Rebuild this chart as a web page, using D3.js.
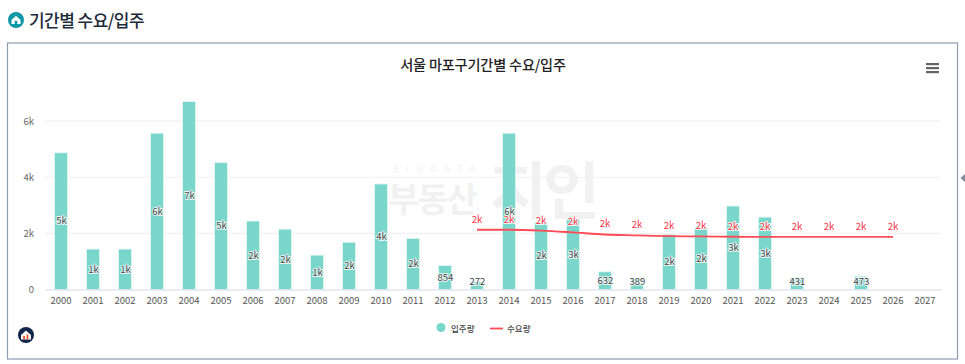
<!DOCTYPE html>
<html>
<head>
<meta charset="utf-8">
<script src="https://cdn.jsdelivr.net/npm/d3@7"></script>
<style>
  html, body { margin: 0; padding: 0; background: #fff; overflow: hidden; }
  text { font-family: "Noto Sans CJK KR", "Noto Sans", sans-serif; }
</style>
</head>
<body>
<div id="chart"></div>
<script>
let years = d3.range(2000, 2028).map(String)

// 입주량 (null = no bar)
let moveIn = [4870, 1440, 1440, 5570, 6700, 4520, 2440, 2150, 1225, 1680,
  3760, 1820, 854, 272, 5570, 2390, 2500, 632, 389, 1960,
  2200, 2975, 2580, 431, null, 473, null, null]

// 수요량
let demandYears = ["2013", "2014", "2015", "2016", "2017", "2018", "2019",
  "2020", "2021", "2022", "2023", "2024", "2025", "2026"]
let demand = [2130, 2130, 2100, 2035, 1960, 1930, 1900, 1890, 1880, 1875, 1875, 1875, 1875, 1875]

let yTicks = [0, 2000, 4000, 6000]

let
  width = 965,
  height = 364,
  plotLeft = 45,
  plotRight = 941,
  plotTop = 65,
  plotBottom = 289.5

let svg = d3.select("#chart")
  .append("svg")
    .attr("width", width)
    .attr("height", height)
    .style("display", "block")

let xScale = d3.scaleBand().domain(years).range([plotLeft, plotRight])
let yScale = d3.scaleLinear().domain([0, 8000]).range([plotBottom, plotTop])
let xMid = d => xScale(d) + xScale.bandwidth() / 2

let fmt = v => v >= 1000 ? Math.round(v / 1000) + "k" : String(v)

// page heading
svg.append("circle").attr("cx", 16).attr("cy", 20).attr("r", 8).attr("fill", "#1098a8")
svg.append("path")
  .attr("d", "M11.5 20 L16 15.8 L20.5 20 L20.5 24 L11.5 24 Z")
  .attr("fill", "#fff")
svg.append("rect").attr("x", 14.7).attr("y", 20.8).attr("width", 2.6).attr("height", 3.2).attr("fill", "#1098a8")
svg.append("text")
  .attr("x", 29).attr("y", 26.5)
  .attr("font-size", 17).attr("font-weight", 500)
  .attr("fill", "#1c2a3a").attr("letter-spacing", -0.55)
  .text("기간별 수요/입주")

// card
svg.append("rect")
  .attr("x", 7.5).attr("y", 43).attr("width", 950).attr("height", 316)
  .attr("fill", "#fff").attr("stroke", "#8c9cb2").attr("stroke-width", 1.2)
svg.append("path").attr("d", "M965 174 L960.5 178 L965 182 Z").attr("fill", "#7f8c9c")

// watermark
let mark = svg.append("g").attr("fill", "#f1f1f1")
mark.append("text")
  .attr("x", 393).attr("y", 172)
  .attr("font-size", 9).attr("letter-spacing", 7.6).attr("fill", "#f2f2f2")
  .text("BIGDATA")
mark.append("text")
  .attr("x", 388).attr("y", 212)
  .attr("font-size", 34).attr("font-weight", 700)
  .attr("letter-spacing", -2)
  .text("부동산")
mark.append("text")
  .attr("x", 490).attr("y", 214)
  .attr("font-size", 62).attr("font-weight", 700)
  .attr("letter-spacing", -4)
  .text("지인")

// gridlines
svg.append("g")
  .selectAll("line")
  .data(yTicks.filter(d => d > 0))
  .enter()
  .append("line")
    .attr("x1", plotLeft).attr("x2", plotRight)
    .attr("y1", d => yScale(d)).attr("y2", d => yScale(d))
    .attr("stroke", "#eff0f3").attr("stroke-width", 1.2)

// y axis
let yAxis = d3.axisLeft(yScale).tickValues(yTicks).tickFormat(fmt).tickSize(0).tickPadding(11)
let yAxisSvg = svg.append("g")
  .attr("transform", "translate(" + plotLeft + ",0)")
  .call(yAxis)
yAxisSvg.select(".domain").remove()
yAxisSvg.selectAll("text")
  .attr("font-size", 9.5).attr("fill", "#666")
  .style("font-family", '"Noto Sans CJK KR", "Noto Sans", sans-serif')

// bars
let barData = years.map((y, i) => ({ year: y, value: moveIn[i] })).filter(d => d.value !== null)
svg.append("g")
  .selectAll("rect")
  .data(barData)
  .enter()
  .append("rect")
    .attr("x", d => xMid(d.year) - 6.5)
    .attr("y", d => yScale(d.value))
    .attr("width", 13)
    .attr("height", d => plotBottom - yScale(d.value))
    .attr("fill", "#79d6cb")
    .attr("stroke", "#e4f7f4")
    .attr("stroke-width", 0.8)

// x axis
let xAxis = d3.axisBottom(xScale).tickSize(0).tickPadding(8)
let xAxisSvg = svg.append("g")
  .attr("transform", "translate(0," + plotBottom + ")")
  .call(xAxis)
xAxisSvg.select(".domain").attr("stroke", "#d5dbe8").attr("stroke-width", 1)
xAxisSvg.selectAll("text")
  .attr("font-size", 9.5).attr("fill", "#555")
  .style("font-family", '"Noto Sans CJK KR", "Noto Sans", sans-serif')

// demand line
let line = d3.line()
  .x((d, i) => xMid(demandYears[i]))
  .y(d => yScale(d))
  .curve(d3.curveMonotoneX)
svg.append("path")
  .datum(demand)
  .attr("d", line)
  .attr("fill", "none")
  .attr("stroke", "#ff4b55")
  .attr("stroke-width", 1.8)

// bar labels, centred in the bar but kept inside the plot
svg.append("g")
  .selectAll("text")
  .data(barData)
  .enter()
  .append("text")
    .attr("x", d => xMid(d.year) + 0.5)
    .attr("y", d => Math.min((yScale(d.value) + plotBottom) / 2, plotBottom - 7.5))
    .attr("dy", "0.35em")
    .attr("text-anchor", "middle")
    .attr("font-size", 9.5)
    .attr("fill", "#444")
    .attr("stroke", "#fff")
    .attr("stroke-width", 1.8)
    .attr("stroke-opacity", 0.85)
    .attr("paint-order", "stroke")
    .text(d => fmt(d.value))

// demand labels above the line
svg.append("g")
  .selectAll("text")
  .data(demand)
  .enter()
  .append("text")
    .attr("x", (d, i) => xMid(demandYears[i]))
    .attr("y", d => yScale(d) - 7)
    .attr("text-anchor", "middle")
    .attr("font-size", 9.5)
    .attr("fill", "#ff3340")
    .attr("stroke", "#fff")
    .attr("stroke-width", 1.8)
    .attr("stroke-opacity", 0.85)
    .attr("paint-order", "stroke")
    .text(fmt)

// title
svg.append("text")
  .attr("x", 483).attr("y", 69.5)
  .attr("text-anchor", "middle")
  .attr("font-size", 14.2).attr("font-weight", 500).attr("fill", "#222")
  .attr("letter-spacing", -0.2)
  .text("서울 마포구기간별 수요/입주")

// menu icon
svg.append("g")
  .selectAll("rect")
  .data([63, 67, 71])
  .enter()
  .append("rect")
    .attr("x", 926).attr("y", d => d)
    .attr("width", 13).attr("height", 2.2)
    .attr("fill", "#666")

// legend
svg.append("circle").attr("cx", 441).attr("cy", 327.5).attr("r", 4.5).attr("fill", "#79d6cb")
svg.append("text")
  .attr("x", 451).attr("y", 331.5)
  .attr("font-size", 8.5).attr("font-weight", 500).attr("fill", "#444")
  .text("입주량")
svg.append("line")
  .attr("x1", 490).attr("x2", 503).attr("y1", 328.5).attr("y2", 328.5)
  .attr("stroke", "#ff4b55").attr("stroke-width", 1.8)
svg.append("text")
  .attr("x", 507).attr("y", 331.5)
  .attr("font-size", 8.5).attr("font-weight", 500).attr("fill", "#444")
  .text("수요량")

// corner logo
svg.append("circle").attr("cx", 26).attr("cy", 335).attr("r", 8).attr("fill", "#10244a")
svg.append("path")
  .attr("d", "M21 335 L26 330.5 L31 335 L31 339.5 L21 339.5 Z")
  .attr("fill", "#fff")
svg.append("rect").attr("x", 23.2).attr("y", 336).attr("width", 1.8).attr("height", 3.5).attr("fill", "#e4572e")
svg.append("rect").attr("x", 26.5).attr("y", 334.5).attr("width", 1.8).attr("height", 5).attr("fill", "#e4572e")
</script>
</body>
</html>
